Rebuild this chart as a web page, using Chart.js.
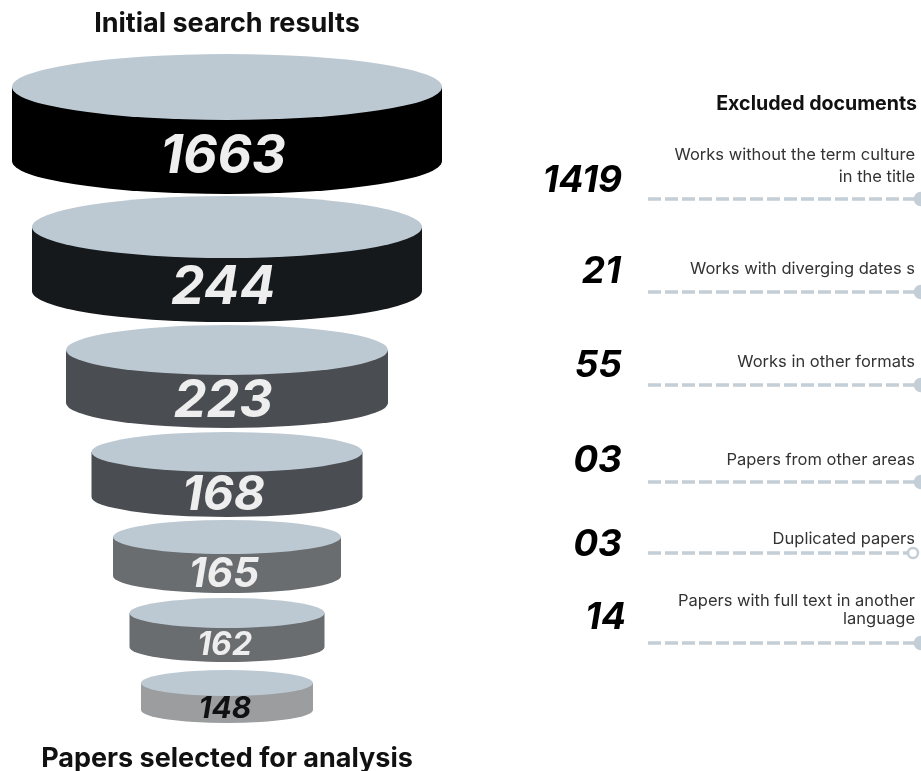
<!DOCTYPE html>
<html>
<head>
<meta charset="utf-8">
<title>Document selection funnel</title>
<script src="https://cdn.jsdelivr.net/npm/chart.js@4.4.1/dist/chart.umd.min.js"></script>
<style>
  html, body { margin: 0; padding: 0; background: #fff; }
  #wrap { width: 921px; height: 771px; position: relative; }
</style>
</head>
<body>
<div id="wrap"><canvas id="funnel"></canvas></div>
<script>
// documents left after each screening step
const stageCounts = [1663, 244, 223, 168, 165, 162, 148]
const stageTitles = ['Initial search results', 'Papers selected for analysis']

// documents dropped between two steps, and why
const excludedCounts = [1419, 21, 55, 3, 3, 14]
const excludedReasons = [
  ['Works without the term culture', 'in the title'],
  ['Works with diverging dates s'],
  ['Works in other formats'],
  ['Papers from other areas'],
  ['Duplicated papers'],
  ['Papers with full text in another', 'language']
]
const excludedTitle = 'Excluded documents'

// layout, in chart units (scales run 0..921 by 0..771)
const FUNNEL_X = 227
const discStyle = [
  { w: 430, top: 87, depth: 74, ry: 33, side: '#000000', ink: '#eeeeee', font: 53 },
  { w: 390, top: 227, depth: 64, ry: 31, side: '#16191c', ink: '#eeeeee', font: 53 },
  { w: 322, top: 350, depth: 53, ry: 25, side: '#4a4d51', ink: '#eeeeee', font: 52 },
  { w: 271, top: 452, depth: 45, ry: 20, side: '#4a4d51', ink: '#eeeeee', font: 48 },
  { w: 228, top: 537, depth: 39, ry: 17, side: '#6a6d70', ink: '#eeeeee', font: 41 },
  { w: 195, top: 613, depth: 34, ry: 15, side: '#6a6d70', ink: '#eeeeee', font: 32 },
  { w: 172, top: 683, depth: 27, ry: 13, side: '#9b9d9f', ink: '#111111', font: 30 }
]
const DISC_TOP = '#bdc9d2'

const NUM_X = 622
const TEXT_X = 915
const LINE_X = 648
const rowStyle = [
  { num: 179, dx: 0, text: [160, 182], line: 199, end: 921, hollow: false },
  { num: 270, dx: -1, text: [274], line: 292, end: 921, hollow: false },
  { num: 364, dx: 0, text: [367], line: 385, end: 921, hollow: false },
  { num: 459, dx: 0, text: [465], line: 482, end: 921, hollow: false },
  { num: 543, dx: 0, text: [544], line: 553, end: 913, hollow: true },
  { num: 616, dx: 4, text: [606, 624], line: 643, end: 921, hollow: false }
]
const DASH_COLOR = '#c4ced6'

const FONT = 'Inter, "Noto Sans", sans-serif'
const CAP = 0.727
const SLANT = 0.2

// draws the stacked discs and all the texts
const funnelPlugin = {
  id: 'funnel',
  beforeDatasetsDraw(chart) {
    const { ctx } = chart
    const { x, y } = chart.scales
    const cx = x.getPixelForValue(FUNNEL_X)

    ctx.save()
    discStyle.forEach((d, i) => {
      const rx = x.getPixelForValue(FUNNEL_X + d.w / 2) - cx
      const top = y.getPixelForValue(d.top)
      const bot = y.getPixelForValue(d.top + d.depth)
      const ry = y.getPixelForValue(d.top + d.ry) - top

      // side of the cylinder
      ctx.beginPath()
      ctx.moveTo(cx - rx, top)
      ctx.lineTo(cx - rx, bot)
      ctx.ellipse(cx, bot, rx, ry, 0, Math.PI, 0, true)
      ctx.lineTo(cx + rx, top)
      ctx.closePath()
      ctx.fillStyle = d.side
      ctx.fill()

      // lid
      ctx.beginPath()
      ctx.ellipse(cx, top, rx, ry, 0, 0, Math.PI * 2)
      ctx.fillStyle = DISC_TOP
      ctx.fill()

      // count, slanted text shifted back so it looks centred
      ctx.font = `italic 700 ${d.font}px ${FONT}`
      ctx.textAlign = 'center'
      ctx.textBaseline = 'alphabetic'
      ctx.fillStyle = d.ink
      const mid = bot - (bot - top) * 0.1
      const cap = d.font * CAP
      ctx.fillText(String(stageCounts[i]), cx - cap * SLANT / 2, mid + cap / 2)
    })

    // funnel titles
    ctx.font = `700 27px ${FONT}`
    ctx.fillStyle = '#111111'
    ctx.textAlign = 'center'
    ctx.fillText(stageTitles[0], cx, y.getPixelForValue(32))
    ctx.fillText(stageTitles[1], cx, y.getPixelForValue(767))

    // excluded list
    ctx.textAlign = 'right'
    ctx.font = `700 19.6px ${FONT}`
    ctx.fillText(excludedTitle, x.getPixelForValue(917), y.getPixelForValue(110))

    rowStyle.forEach((r, i) => {
      ctx.font = `italic 700 37px ${FONT}`
      ctx.fillStyle = '#000000'
      ctx.fillText(String(excludedCounts[i]).padStart(2, '0'),
        x.getPixelForValue(NUM_X + r.dx), y.getPixelForValue(r.num) + 37 * CAP / 2)

      ctx.font = `400 16.5px ${FONT}`
      ctx.fillStyle = '#333333'
      excludedReasons[i].forEach((line, j) => {
        ctx.fillText(line, x.getPixelForValue(TEXT_X), y.getPixelForValue(r.text[j]))
      })
    })
    ctx.restore()
  }
}

// one dashed leader line per excluded group
const leaderSets = rowStyle.map((r, i) => ({
  label: excludedReasons[i].join(' '),
  data: [{ x: LINE_X, y: r.line }, { x: r.end, y: r.line }],
  showLine: true,
  borderColor: DASH_COLOR,
  borderWidth: 3.5,
  borderDash: [13, 4],
  pointRadius: [0, r.hollow ? 5 : 6],
  pointBackgroundColor: r.hollow ? '#ffffff' : DASH_COLOR,
  pointBorderColor: DASH_COLOR,
  pointBorderWidth: 2.5,
  clip: false
}))

function buildChart() {
  const ctx = document.getElementById('funnel').getContext('2d')
  window.funnelChart = new Chart(ctx, {
    type: 'scatter',
    data: { datasets: leaderSets },
    options: {
      responsive: true,
      maintainAspectRatio: false,
      animation: false,
      events: [],
      layout: { padding: 0, autoPadding: false },
      plugins: { legend: { display: false }, tooltip: { enabled: false } },
      scales: {
        x: { type: 'linear', min: 0, max: 921, display: false },
        y: { type: 'linear', min: 0, max: 771, reverse: true, display: false }
      }
    },
    plugins: [funnelPlugin]
  })
}

Promise.all([
  document.fonts.load('700 27px Inter'),
  document.fonts.load('400 16px Inter'),
  document.fonts.load('italic 700 37px Inter')
]).then(buildChart, buildChart)
</script>
</body>
</html>
